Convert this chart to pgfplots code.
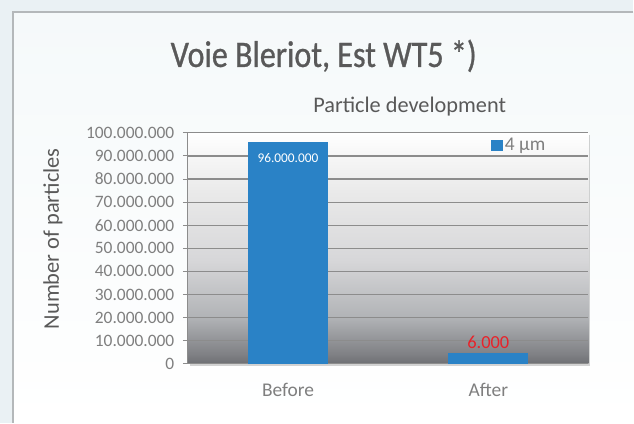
\documentclass[border=0pt]{standalone}
\usepackage{fontspec}
\setmainfont{Carlito}
\newfontfamily\titlefont[FakeStretch=0.86, FakeBold=0.8]{Carlito}
\usepackage{pgfplots}
\pgfplotsset{compat=1.18}
\usetikzlibrary{shadows}
\definecolor{outerbg}{HTML}{EAF1F4}
\definecolor{paneltop}{HTML}{F5F9FA}
\definecolor{panelborder}{HTML}{B4B8BA}
\definecolor{titlegray}{HTML}{595959}
\definecolor{tickgray}{HTML}{7F7F7F}
\definecolor{barblue}{HTML}{2A82C6}
\definecolor{gridgray}{HTML}{8C8C8C}
\definecolor{redlabel}{HTML}{E8232A}
\definecolor{g0}{HTML}{6E6F73}
\definecolor{g1}{HTML}{7F8084}
\definecolor{g2}{HTML}{B1B3B6}
\definecolor{g3}{HTML}{D7D7D9}
\definecolor{g4}{HTML}{EAEAEA}
\definecolor{g5}{HTML}{FFFFFF}
\pgfdeclareverticalshading{plotbg}{100bp}{color(0bp)=(g0); color(25bp)=(g0); color(27bp)=(g1); color(35bp)=(g2); color(47.5bp)=(g3); color(62.5bp)=(g4); color(75bp)=(g5); color(100bp)=(g5)}
\pgfplotstableread{
x y lab
0 96000000 96.000.000
}\beforetab
\pgfplotstableread{
x y lab
1 4800000 6.000
}\aftertab
\begin{document}
\begin{tikzpicture}[x=1bp,y=1bp]
\fill[outerbg] (0,0) rectangle (634,423);
\shade[top color=paneltop, bottom color=white] (13,0) rectangle (634,411);
\draw[panelborder, line width=1.2bp] (13,0) -- (13,411) -- (634,411);
\node[anchor=base, text=titlegray, font=\titlefont\fontsize{37.5}{37.5}\selectfont] at (324,423-67) {Voie Bleriot, Est WT5 *)};
\node[anchor=base, text=titlegray, font=\fontsize{22.4}{22.4}\selectfont] at (410,423-113) {Particle development};
\node[rotate=90, text=titlegray, font=\fontsize{22.5}{22.5}\selectfont] at (53,423-239) {Number of particles};
\begin{axis}[
  at={(188bp,59bp)}, anchor=south west,
  scale only axis, width=401bp, height=231bp,
  xmin=-0.5, xmax=1.5, ymin=0, ymax=100000000,
  ytick distance=10000000,
  xtick={0,1}, xticklabels={Before,After},
  extra x ticks={0.5}, extra x tick labels={},
  extra x tick style={major tick length=5bp, tick style={draw=gridgray}, grid=none},
  scaled y ticks=false,
  ticklabel style={text=tickgray},
  yticklabel style={font=\fontsize{17.5}{17.5}\selectfont, xshift=-5bp, /pgf/number format/.cd, fixed, precision=0, 1000 sep={.}, assume math mode=true},
  xticklabel style={font=\fontsize{19.5}{19.5}\selectfont, yshift=-11bp},
  major tick length=5bp,
  tick align=outside,
  xtick style={draw=none},
  ytick style={draw=gridgray, line width=1bp},
  ymajorgrids, major grid style={draw=gridgray, line width=1.2bp},
  axis line style={draw=gridgray, line width=1bp},
  axis x line*=bottom, axis y line*=left,
  axis background/.style={shading=plotbg, drop shadow={shadow xshift=2bp, shadow yshift=-2bp, opacity=0.35}},
  ybar, bar width=80bp, bar shift=0pt,
  legend style={draw=none, fill=none, at={(0.756,0.985)}, anchor=north west, font=\fontsize{19.5}{19.5}\selectfont, text=tickgray, inner sep=0pt},
  legend image code/.code={\fill[barblue] (0bp,-6bp) rectangle (12bp,6bp);},
  point meta=explicit symbolic,
]
\addplot[fill=barblue, draw=none, nodes near coords, nodes near coords style={anchor=north, text=white, font=\fontsize{13.4}{13.4}\selectfont, yshift=-8bp}] table[x=x, y=y, meta=lab] {\beforetab};
\addlegendentry{4 µm}
\addplot[fill=barblue, draw=none, forget plot, nodes near coords, nodes near coords style={anchor=south, text=redlabel, font=\fontsize{18.5}{18.5}\selectfont, yshift=0bp}] table[x=x, y=y, meta=lab] {\aftertab};
\end{axis}
\end{tikzpicture}
\end{document}
